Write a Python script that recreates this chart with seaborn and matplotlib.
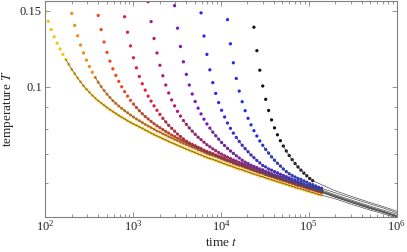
import numpy as np
import pandas as pd
import seaborn as sns
import matplotlib.pyplot as plt
from matplotlib.ticker import FixedLocator, FixedFormatter, LogLocator, NullFormatter

# sampling grid of the simulation: 9 samples per doubling of t, starting at t = 100
t_grid = 100 * 2 ** (np.arange(95) / 9)

names = ['s100', 's200', 's400', 's800', 's1500', 's3000', 's6000', 's12000', 's24000']
first_idx = [0, 9, 18, 27, 35, 44, 53, 62, 71]
colors = ['#f7c414', '#f28a1e', '#ea4a22', '#dc1f3e', '#b0187c',
          '#7a18b8', '#3a22e0', '#2030dc', '#111111']

T_s100 = [0.1495, 0.1418, 0.1357, 0.1306, 0.1262, 0.1224, 0.1189, 0.1157, 0.1127, 0.1098,
          0.1073, 0.1049, 0.1027, 0.1006, 0.0988, 0.0972, 0.0956, 0.0942, 0.0929, 0.0918,
          0.0907, 0.0896, 0.0886, 0.0877, 0.0868, 0.0859, 0.0851, 0.0843, 0.0835, 0.0828,
          0.0821, 0.0815, 0.0808, 0.0802, 0.0795, 0.0789, 0.0782, 0.0776, 0.0770, 0.0765,
          0.0759, 0.0754, 0.0748, 0.0743, 0.0738, 0.0733, 0.0728, 0.0723, 0.0718, 0.0714,
          0.0709, 0.0705, 0.0700, 0.0696, 0.0691, 0.0687, 0.0683, 0.0680, 0.0676, 0.0672,
          0.0668, 0.0664, 0.0660, 0.0657, 0.0653, 0.0649, 0.0646, 0.0643, 0.0639, 0.0636,
          0.0632, 0.0629, 0.0626, 0.0622, 0.0620, 0.0616, 0.0613, 0.0610, 0.0607, 0.0604,
          0.0601, 0.0598, 0.0595, 0.0592, 0.0589, 0.0586, 0.0583, 0.0581, 0.0578, 0.0575,
          0.0572, 0.0570, 0.0567, 0.0564, 0.0562]
T_s200 = [0.1479, 0.1387, 0.1313, 0.1250, 0.1198, 0.1153, 0.1115, 0.1081, 0.1052, 0.1025,
          0.1002, 0.0981, 0.0962, 0.0945, 0.0929, 0.0916, 0.0903, 0.0892, 0.0881, 0.0871,
          0.0861, 0.0852, 0.0843, 0.0835, 0.0827, 0.0819, 0.0812, 0.0805, 0.0798, 0.0791,
          0.0786, 0.0779, 0.0774, 0.0767, 0.0762, 0.0756, 0.0751, 0.0745, 0.0740, 0.0735,
          0.0730, 0.0725, 0.0721, 0.0715, 0.0711, 0.0706, 0.0701, 0.0697, 0.0694, 0.0690,
          0.0686, 0.0681, 0.0677, 0.0673, 0.0670, 0.0665, 0.0661, 0.0658, 0.0655, 0.0651,
          0.0648, 0.0643, 0.0640, 0.0637, 0.0633, 0.0631, 0.0627, 0.0623, 0.0620, 0.0617,
          0.0614, 0.0611, 0.0608, 0.0605, 0.0602, 0.0599, 0.0595, 0.0592, 0.0590, 0.0587,
          0.0584, 0.0581, 0.0579, 0.0576, 0.0573, 0.0571]
T_s400 = [0.1463, 0.1357, 0.1270, 0.1202, 0.1147, 0.1101, 0.1063, 0.1030, 0.1001, 0.0975,
          0.0952, 0.0931, 0.0913, 0.0896, 0.0881, 0.0867, 0.0854, 0.0843, 0.0832, 0.0822,
          0.0813, 0.0805, 0.0797, 0.0789, 0.0782, 0.0774, 0.0768, 0.0761, 0.0755, 0.0749,
          0.0743, 0.0738, 0.0732, 0.0727, 0.0722, 0.0717, 0.0711, 0.0706, 0.0702, 0.0698,
          0.0694, 0.0689, 0.0685, 0.0680, 0.0676, 0.0672, 0.0668, 0.0663, 0.0660, 0.0657,
          0.0652, 0.0649, 0.0645, 0.0641, 0.0638, 0.0634, 0.0632, 0.0627, 0.0624, 0.0621,
          0.0618, 0.0615, 0.0611, 0.0608, 0.0605, 0.0602, 0.0599, 0.0596, 0.0592, 0.0590,
          0.0587, 0.0584, 0.0581, 0.0579, 0.0576, 0.0573, 0.0570]
T_s800 = [0.1453, 0.1338, 0.1244, 0.1168, 0.1107, 0.1057, 0.1017, 0.0983, 0.0952, 0.0927,
          0.0904, 0.0883, 0.0864, 0.0846, 0.0830, 0.0815, 0.0802, 0.0790, 0.0778, 0.0768,
          0.0758, 0.0749, 0.0742, 0.0736, 0.0731, 0.0725, 0.0720, 0.0714, 0.0709, 0.0705,
          0.0701, 0.0696, 0.0692, 0.0687, 0.0683, 0.0678, 0.0675, 0.0671, 0.0666, 0.0663,
          0.0659, 0.0655, 0.0651, 0.0647, 0.0644, 0.0640, 0.0636, 0.0634, 0.0629, 0.0626,
          0.0623, 0.0620, 0.0616, 0.0613, 0.0610, 0.0607, 0.0604, 0.0600, 0.0597, 0.0594,
          0.0592, 0.0589, 0.0585, 0.0582, 0.0580, 0.0577, 0.0574, 0.0572]
T_s1500 = [0.1574, 0.1416, 0.1294, 0.1198, 0.1122, 0.1061, 0.1010, 0.0968, 0.0933, 0.0904,
           0.0878, 0.0856, 0.0836, 0.0819, 0.0804, 0.0790, 0.0777, 0.0765, 0.0755, 0.0745,
           0.0735, 0.0727, 0.0719, 0.0712, 0.0705, 0.0699, 0.0693, 0.0688, 0.0683, 0.0678,
           0.0674, 0.0669, 0.0665, 0.0661, 0.0657, 0.0652, 0.0649, 0.0645, 0.0641, 0.0638,
           0.0634, 0.0630, 0.0627, 0.0623, 0.0620, 0.0617, 0.0613, 0.0610, 0.0606, 0.0603,
           0.0600, 0.0597, 0.0594, 0.0591, 0.0588, 0.0584, 0.0582, 0.0579, 0.0576, 0.0574]
T_s3000 = [0.1541, 0.1367, 0.1240, 0.1143, 0.1069, 0.1010, 0.0963, 0.0925, 0.0893, 0.0866,
           0.0842, 0.0821, 0.0803, 0.0786, 0.0771, 0.0757, 0.0744, 0.0732, 0.0721, 0.0711,
           0.0702, 0.0693, 0.0685, 0.0677, 0.0670, 0.0665, 0.0659, 0.0655, 0.0651, 0.0646,
           0.0643, 0.0638, 0.0634, 0.0630, 0.0626, 0.0623, 0.0619, 0.0616, 0.0612, 0.0609,
           0.0605, 0.0602, 0.0598, 0.0596, 0.0592, 0.0589, 0.0586, 0.0583, 0.0580, 0.0577,
           0.0575]
T_s6000 = [0.1483, 0.1311, 0.1189, 0.1095, 0.1023, 0.0966, 0.0920, 0.0883, 0.0852, 0.0825,
           0.0802, 0.0782, 0.0764, 0.0748, 0.0733, 0.0720, 0.0708, 0.0696, 0.0686, 0.0676,
           0.0667, 0.0658, 0.0653, 0.0646, 0.0642, 0.0637, 0.0633, 0.0628, 0.0624, 0.0620,
           0.0616, 0.0612, 0.0608, 0.0604, 0.0601, 0.0597, 0.0593, 0.0590, 0.0587, 0.0584,
           0.0580, 0.0578]
T_s12000 = [0.1431, 0.1258, 0.1137, 0.1046, 0.0978, 0.0924, 0.0881, 0.0846, 0.0817, 0.0792,
            0.0770, 0.0750, 0.0733, 0.0717, 0.0703, 0.0689, 0.0677, 0.0666, 0.0656, 0.0646,
            0.0637, 0.0630, 0.0624, 0.0619, 0.0614, 0.0611, 0.0606, 0.0602, 0.0597, 0.0594,
            0.0590, 0.0586, 0.0583]
T_s24000 = [0.1374, 0.1213, 0.1093, 0.1005, 0.0936, 0.0882, 0.0839, 0.0804, 0.0775, 0.0751,
            0.0730, 0.0711, 0.0694, 0.0679, 0.0665, 0.0653, 0.0642, 0.0632, 0.0623, 0.0614,
            0.0607]
series_T = [T_s100, T_s200, T_s400, T_s800, T_s1500, T_s3000, T_s6000, T_s12000, T_s24000]

# fitted curves: start sample of each fit and its continuation beyond the data
fit_first = [7, 8, 12, 13, 12, 12, 12, 12, 10]
fit_ext_t = [2e5, 3e5, 5e5, 7e5, 1e6]
fit_ext_T = [[0.0551, 0.0536, 0.0519, 0.0509, 0.0498],
             [0.0556, 0.0541, 0.0523, 0.0513, 0.0501],
             [0.0556, 0.0541, 0.0523, 0.0513, 0.0501],
             [0.0557, 0.0542, 0.0525, 0.0514, 0.0502],
             [0.0559, 0.0544, 0.0526, 0.0515, 0.0503],
             [0.0560, 0.0545, 0.0527, 0.0516, 0.0504],
             [0.0563, 0.0548, 0.0530, 0.0519, 0.0508],
             [0.0569, 0.0554, 0.0536, 0.0525, 0.0512],
             [0.0575, 0.0559, 0.0540, 0.0529, 0.0516]]

dots = []
fits = []
for name, k0, vals, j0, ext in zip(names, first_idx, series_T, fit_first, fit_ext_T):
    tt = t_grid[k0:k0 + len(vals)]
    dots.append(pd.DataFrame({'t': tt, 'T': vals, 'run': name}))
    fits.append(pd.DataFrame({'t': list(tt[j0:]) + fit_ext_t,
                              'T': list(vals[j0:]) + ext, 'run': name}))
dots = pd.concat(dots, ignore_index=True)
fits = pd.concat(fits, ignore_index=True)

sns.set_theme(style='ticks')
plt.rcParams['font.family'] = ['Liberation Serif', 'DejaVu Serif']
plt.rcParams['mathtext.fontset'] = 'stix'

fig = plt.figure(figsize=(4.07, 2.52), dpi=100)
ax = fig.add_axes([0.1113, 0.14, 0.8634, 0.857])

sns.scatterplot(data=dots, x='t', y='T', hue='run', palette=colors, s=5.5,
                linewidth=0, legend=False, ax=ax)
sns.lineplot(data=fits, x='t', y='T', units='run', estimator=None, sort=False,
             color='#505050', lw=0.5, ax=ax)

ax.set_xscale('log')
ax.set_yscale('log')
ax.set_xlim(1e2, 1e6)
ax.set_ylim(0.0501, 0.1582)

ax.xaxis.set_major_locator(LogLocator(base=10))
ax.xaxis.set_minor_locator(LogLocator(base=10, subs=np.arange(2, 10)))
ax.xaxis.set_minor_formatter(NullFormatter())
ax.yaxis.set_major_locator(FixedLocator([0.1, 0.15]))
ax.yaxis.set_major_formatter(FixedFormatter(['0.1', '0.15']))
ax.yaxis.set_minor_locator(FixedLocator([0.06, 0.07, 0.08, 0.09]))
ax.yaxis.set_minor_formatter(NullFormatter())

ax.tick_params(which='both', direction='in', top=True, right=True,
               color='#808080', width=0.6, labelsize=9)
ax.tick_params(which='major', length=3.5)
ax.tick_params(which='minor', length=2)
ax.tick_params(axis='x', pad=2)
ax.tick_params(axis='y', pad=2.5)
for sp in ax.spines.values():
    sp.set_color('#808080')
    sp.set_linewidth(0.8)

ax.set_xlabel('time $t$', fontsize=9.5, labelpad=2)
ax.set_ylabel('temperature $T$', fontsize=9.5, labelpad=3)

fig.savefig('out.png', dpi=100)
